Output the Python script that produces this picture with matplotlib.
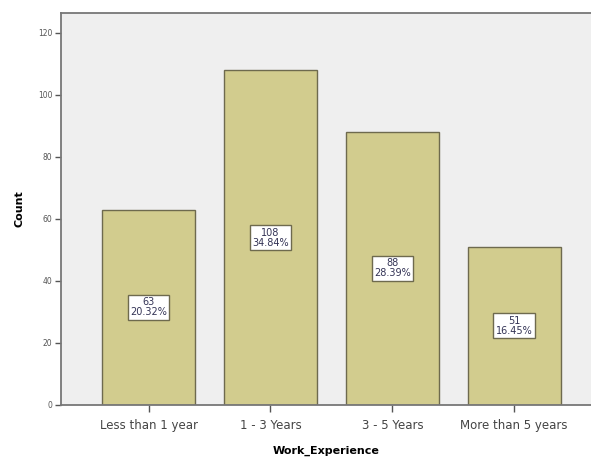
import matplotlib.pyplot as plt

categories = ['Less than 1 year', '1 - 3 Years', '3 - 5 Years', 'More than 5 years']
counts = [63, 108, 88, 51]
percents = ['20.32%', '34.84%', '28.39%', '16.45%']
yticks = [0, 20, 40, 60, 80, 100, 120]

fig = plt.figure(figsize=(5.91, 4.59), dpi=100)
ax = fig.add_axes([0.103, 0.118, 0.897, 0.854])
ax.set_facecolor('#efefef')

x = range(len(categories))
ax.bar(x, counts, width=0.76, color='#d2cc8e', edgecolor='#6e6a4e', linewidth=1.0, zorder=2)

for i, (c, p) in enumerate(zip(counts, percents)):
    ax.text(i, c / 2, f'{c}\n{p}', ha='center', va='center', fontsize=7,
            color='#333355', linespacing=1.0, zorder=3,
            bbox=dict(boxstyle='square,pad=0.25', facecolor='white',
                      edgecolor='#6e6a4e', linewidth=1.0))

ax.set_xlim(-0.72, 3.63)
ax.set_ylim(0, 126.5)
ax.set_xticks(list(x))
ax.set_xticklabels(categories, fontsize=8.5, color='#444444')
ax.set_yticks(yticks)
ax.set_yticklabels([str(t) for t in yticks], fontsize=5.5, color='#555555')
ax.tick_params(axis='both', length=4, width=1, color='#555555', pad=2)
ax.tick_params(axis='x', length=5, pad=5)

ax.spines['right'].set_visible(False)
for side in ['left', 'bottom', 'top']:
    ax.spines[side].set_color('#777777')
    ax.spines[side].set_linewidth(1.3)

ax.set_xlabel('Work_Experience', fontsize=8, fontweight='bold', labelpad=10)
ax.set_ylabel('Count', fontsize=8, fontweight='bold', labelpad=10)

fig.savefig('out.png', dpi=100)
